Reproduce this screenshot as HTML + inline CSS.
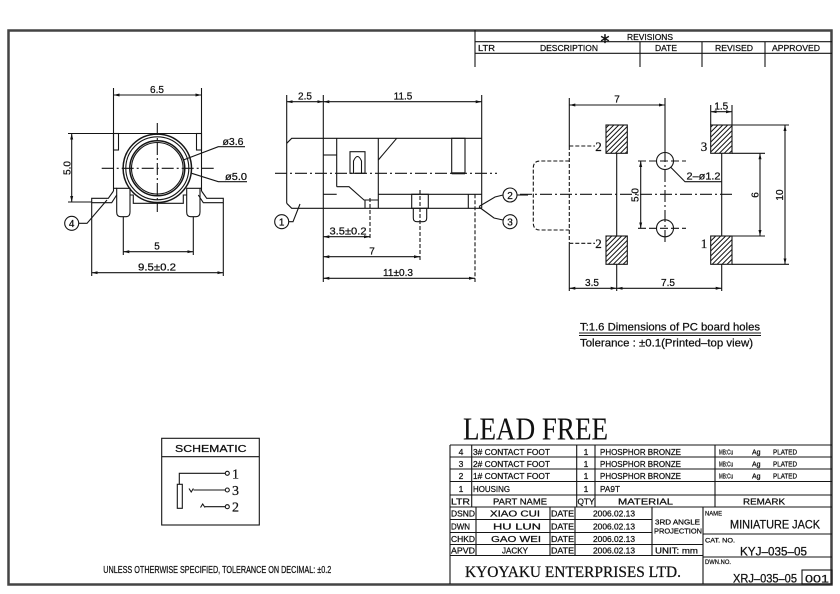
<!DOCTYPE html>
<html><head><meta charset="utf-8"><style>
html,body{margin:0;padding:0;background:#fff;}
svg{display:block;}
text{font-family:"Liberation Sans",sans-serif;fill:#111;stroke:#111;stroke-width:0.25;}
.s{font-family:"Liberation Serif",serif;}
</style></head><body>
<svg width="840" height="594" viewBox="0 0 840 594" xmlns="http://www.w3.org/2000/svg">
<defs>
<marker id="a" markerUnits="userSpaceOnUse" markerWidth="7" markerHeight="4" refX="6" refY="2" orient="auto-start-reverse"><path d="M0,0.5 L6,2 L0,3.5z" fill="#111"/></marker>
<pattern id="h" width="3.5" height="3.5" patternUnits="userSpaceOnUse" patternTransform="rotate(45)"><line x1="1" y1="0" x2="1" y2="3.5" stroke="#111" stroke-width="1"/></pattern>
</defs>

<!-- FRAME -->
<rect x="8.5" y="30.5" width="823" height="554" fill="none" stroke="#444" stroke-width="2.5"/>

<g fill="none" stroke="#151515" stroke-width="1.1">

<!-- REVISIONS BLOCK -->
<line x1="475" y1="30" x2="475" y2="67"/>
<line x1="475" y1="41.7" x2="832" y2="41.7"/>
<line x1="475" y1="53.3" x2="832" y2="53.3"/>
<line x1="640" y1="41.7" x2="640" y2="67"/>
<line x1="702" y1="41.7" x2="702" y2="67"/>
<line x1="765" y1="41.7" x2="765" y2="67"/>

<!-- ============ LEFT VIEW ============ -->
<line x1="113.5" y1="88" x2="113.5" y2="191"/>
<line x1="201.5" y1="88" x2="201.5" y2="191"/>
<line x1="113.5" y1="95" x2="201.5" y2="95" marker-start="url(#a)" marker-end="url(#a)"/>
<line x1="68" y1="133.5" x2="201.5" y2="133.5"/>
<rect x="113.5" y="133.5" width="5" height="16.5"/>
<rect x="196.5" y="133.5" width="5" height="16.5"/>
<line x1="71.7" y1="133.5" x2="71.7" y2="202" marker-start="url(#a)" marker-end="url(#a)"/>
<line x1="68" y1="202" x2="92" y2="202"/>
<circle cx="157.3" cy="168.3" r="34.2" stroke-width="1.5"/>
<circle cx="157.3" cy="168.3" r="31.5"/>
<circle cx="157.3" cy="168.3" r="27.5" stroke-width="1.5"/>
<circle cx="157.3" cy="168.3" r="25.8"/>
<line x1="101.7" y1="168.3" x2="215" y2="168.3" stroke-dasharray="12 3 2 3"/>
<line x1="157.3" y1="123" x2="157.3" y2="212" stroke-dasharray="12 3 2 3"/>
<polyline points="113.5,191 108.3,198.3 91.7,198.3 91.7,202.7 111.7,202.7 116.7,195"/>
<polyline points="201.5,191 206.7,198.3 223.3,198.3 223.3,202.7 203.3,202.7 198.3,195"/>
<path d="M116.7,188.3 H130 V212 Q130,216.7 126,216.7 H120.7 Q116.7,216.7 116.7,212 Z"/>
<path d="M186.7,188.3 H200 V212 Q200,216.7 196,216.7 H190.7 Q186.7,216.7 186.7,212 Z"/>
<line x1="113.5" y1="188.3" x2="116.7" y2="188.3"/>
<line x1="200" y1="188.3" x2="201.5" y2="188.3"/>
<polyline points="130,195 133.3,195 133.3,203.3 183.3,203.3 183.3,195 186.7,195"/>
<circle cx="71.7" cy="223.3" r="7"/>
<polyline points="78.7,223.3 87,223.3 107,200"/>
<line x1="123.3" y1="217" x2="123.3" y2="255"/>
<line x1="193.3" y1="217" x2="193.3" y2="255"/>
<line x1="123.3" y1="251.7" x2="193.3" y2="251.7" marker-start="url(#a)" marker-end="url(#a)"/>
<line x1="91.7" y1="203" x2="91.7" y2="276"/>
<line x1="223.3" y1="203" x2="223.3" y2="276"/>
<line x1="91.7" y1="272.7" x2="223.3" y2="272.7" marker-start="url(#a)" marker-end="url(#a)"/>
<polyline points="183.3,160 218.3,146.7 245,146.7"/>
<polyline points="191.7,173.3 218.3,181.7 247,181.7"/>

<!-- ============ MIDDLE VIEW ============ -->
<line x1="286.7" y1="95" x2="286.7" y2="203.3"/>
<line x1="323.3" y1="95" x2="323.3" y2="282"/>
<line x1="481.7" y1="95" x2="481.7" y2="208.3"/>
<line x1="286.7" y1="101.7" x2="323.3" y2="101.7" marker-start="url(#a)" marker-end="url(#a)"/>
<line x1="323.3" y1="101.7" x2="481.7" y2="101.7" marker-start="url(#a)" marker-end="url(#a)"/>
<polyline points="481.7,138.3 291.7,138.3 286.7,143.3"/>
<polyline points="286.7,203.3 291.7,208.3 481.7,208.3"/>
<line x1="336.7" y1="138.3" x2="336.7" y2="186.7"/>
<line x1="323.3" y1="155" x2="336.7" y2="155"/>
<line x1="323.3" y1="194.3" x2="336.7" y2="194.3"/>
<polyline points="336.7,186.7 349,186.7 364,200 378.3,200"/>
<line x1="365" y1="200" x2="365" y2="208.3"/>
<line x1="378.3" y1="138.3" x2="378.3" y2="208.3"/>
<line x1="378.3" y1="160" x2="396.7" y2="138.3"/>
<rect x="350" y="151.7" width="15" height="21.6"/>
<path d="M353.5,173.3 V161 Q357.5,152 361.5,161 V173.3"/>
<rect x="451.7" y="138.3" width="13.3" height="35"/>
<line x1="451.7" y1="173.3" x2="465" y2="173.3" stroke-width="2"/>
<line x1="378.3" y1="194.3" x2="481.7" y2="194.3"/>
<rect x="411.7" y="194.3" width="16.6" height="14"/>
<path d="M413.3,208.3 V218 Q413.3,221.7 417,221.7 H423 Q426.7,221.7 426.7,218 V208.3"/>
<line x1="468.3" y1="194.3" x2="468.3" y2="208.3"/>
<line x1="420" y1="190" x2="420" y2="260" stroke-dasharray="4 2"/>
<line x1="370" y1="198" x2="370" y2="240" stroke-dasharray="4 2"/>
<line x1="475" y1="194.3" x2="475" y2="282" stroke-dasharray="4 2"/>
<line x1="275" y1="173.3" x2="497" y2="173.3" stroke-dasharray="12 3 2 3"/>
<circle cx="281.7" cy="221.7" r="7"/>
<polyline points="288.7,221.7 293,221.7 300,204"/>
<circle cx="510" cy="195" r="7"/>
<polyline points="503,195 495,197 479,206.5"/>
<line x1="517" y1="195" x2="528" y2="195"/>
<circle cx="510" cy="221.7" r="7"/>
<polyline points="503,220 494,218 479,207"/>
<line x1="323.3" y1="236.7" x2="370" y2="236.7" marker-start="url(#a)" marker-end="url(#a)"/>
<line x1="323.3" y1="256.7" x2="420" y2="256.7" marker-start="url(#a)" marker-end="url(#a)"/>
<line x1="323.3" y1="278.3" x2="475" y2="278.3" marker-start="url(#a)" marker-end="url(#a)"/>

<!-- ============ RIGHT VIEW ============ -->
<line x1="569.3" y1="98" x2="569.3" y2="146"/>
<line x1="569.3" y1="146" x2="569.3" y2="243.3" stroke-dasharray="4 2"/>
<line x1="569.3" y1="243.3" x2="569.3" y2="291"/>
<line x1="665" y1="98" x2="665" y2="150"/>
<line x1="665" y1="150" x2="665" y2="243" stroke-dasharray="12 3 2 3"/>
<line x1="569.3" y1="105" x2="665" y2="105" marker-start="url(#a)" marker-end="url(#a)"/>
<rect x="606" y="125" width="21.3" height="28.3" fill="url(#h)"/>
<rect x="606" y="236" width="21.3" height="28.3" fill="url(#h)"/>
<rect x="710.7" y="125" width="21.3" height="28.3" fill="url(#h)"/>
<rect x="710.7" y="236" width="21.3" height="28.3" fill="url(#h)"/>
<line x1="616.7" y1="153.3" x2="616.7" y2="236"/>
<line x1="616.7" y1="264.3" x2="616.7" y2="291"/>
<line x1="721.7" y1="153.3" x2="721.7" y2="236"/>
<line x1="721.7" y1="264.3" x2="721.7" y2="291"/>
<line x1="569.3" y1="146" x2="595" y2="146" stroke-dasharray="4 2"/>
<line x1="569.3" y1="243.3" x2="595" y2="243.3" stroke-dasharray="4 2"/>
<path d="M569.3,161 H540 Q533.3,161 533.3,168 V223 Q533.3,230 540,230 H569.3" stroke-dasharray="4 2"/>
<circle cx="665" cy="161" r="8.5"/>
<circle cx="665" cy="228.3" r="8.5"/>
<line x1="638" y1="161" x2="686" y2="161" stroke-dasharray="8 3"/>
<line x1="638" y1="228.3" x2="686" y2="228.3" stroke-dasharray="8 3"/>
<line x1="640.7" y1="161" x2="640.7" y2="228.3" marker-start="url(#a)" marker-end="url(#a)"/>
<polyline points="670.5,167 685,181.7 721.7,181.7"/>
<line x1="520" y1="194.3" x2="734" y2="194.3" stroke-dasharray="12 3 2 3"/>
<line x1="710.7" y1="105" x2="710.7" y2="125"/>
<line x1="732" y1="105" x2="732" y2="125"/>
<line x1="710.7" y1="111.7" x2="732" y2="111.7" marker-start="url(#a)" marker-end="url(#a)"/>
<line x1="732" y1="153.3" x2="765" y2="153.3"/>
<line x1="732" y1="236" x2="765" y2="236"/>
<line x1="760" y1="153.3" x2="760" y2="236" marker-start="url(#a)" marker-end="url(#a)"/>
<line x1="732" y1="125" x2="789" y2="125"/>
<line x1="732" y1="264.3" x2="789" y2="264.3"/>
<line x1="785" y1="125" x2="785" y2="264.3" marker-start="url(#a)" marker-end="url(#a)"/>
<line x1="569.3" y1="288.3" x2="616.7" y2="288.3" marker-start="url(#a)" marker-end="url(#a)"/>
<line x1="616.7" y1="288.3" x2="721.7" y2="288.3" marker-start="url(#a)" marker-end="url(#a)"/>

<line x1="579" y1="333" x2="761" y2="333"/>
<line x1="579" y1="335.5" x2="761" y2="335.5"/>

<!-- SCHEMATIC -->
<rect x="161.7" y="438.3" width="97.6" height="86.7"/>
<line x1="161.7" y1="456.7" x2="259.3" y2="456.7"/>
<polyline points="179.3,484.3 179.3,473.3 225.3,473.3"/>
<rect x="177.3" y="484.3" width="5" height="24"/>
<circle cx="227.3" cy="473.3" r="2"/>
<polyline points="189,488.5 191.2,492 193.4,488.5"/>
<line x1="193.5" y1="490" x2="225.3" y2="490"/>
<circle cx="227.3" cy="490" r="2"/>
<polyline points="200.5,507.5 202.7,504 205,507.5"/>
<line x1="205" y1="506.7" x2="225.3" y2="506.7"/>
<circle cx="227.3" cy="506.7" r="2"/>

<!-- TITLE BLOCK -->
<line x1="450" y1="445" x2="450" y2="584"/>
<line x1="450" y1="445" x2="832" y2="445"/>
<line x1="450" y1="457" x2="832" y2="457"/>
<line x1="450" y1="469" x2="832" y2="469"/>
<line x1="450" y1="481.5" x2="832" y2="481.5"/>
<line x1="450" y1="495" x2="832" y2="495"/>
<line x1="450" y1="507" x2="832" y2="507"/>
<line x1="450" y1="519.5" x2="652" y2="519.5"/>
<line x1="450" y1="532.5" x2="652" y2="532.5"/>
<line x1="450" y1="544.5" x2="703" y2="544.5"/>
<line x1="450" y1="555.5" x2="703" y2="555.5"/>
<line x1="703" y1="534" x2="832" y2="534"/>
<line x1="703" y1="557" x2="832" y2="557"/>
<line x1="471.7" y1="445" x2="471.7" y2="507"/>
<line x1="576.7" y1="445" x2="576.7" y2="507"/>
<line x1="595" y1="445" x2="595" y2="507"/>
<line x1="715" y1="445" x2="715" y2="507"/>
<line x1="476" y1="507" x2="476" y2="555.5"/>
<line x1="550" y1="507" x2="550" y2="555.5"/>
<line x1="575" y1="507" x2="575" y2="555.5"/>
<line x1="652" y1="507" x2="652" y2="555.5"/>
<line x1="703" y1="507" x2="703" y2="584"/>
<rect x="802" y="570" width="30" height="14"/>
</g>

<!-- ===== TEXT ===== -->
<g font-size="8.5">
<text x="605" y="43" font-family="DejaVu Sans" font-size="14" text-anchor="middle">∗</text>
<text x="627" y="39.8" textLength="46" lengthAdjust="spacingAndGlyphs">REVISIONS</text>
<text x="478" y="51" textLength="17" lengthAdjust="spacingAndGlyphs">LTR</text>
<text x="540" y="51" textLength="58" lengthAdjust="spacingAndGlyphs">DESCRIPTION</text>
<text x="655" y="51" textLength="22" lengthAdjust="spacingAndGlyphs">DATE</text>
<text x="715" y="51" textLength="38" lengthAdjust="spacingAndGlyphs">REVISED</text>
<text x="772" y="51" textLength="48" lengthAdjust="spacingAndGlyphs">APPROVED</text>
</g>

<g font-size="10" text-anchor="middle">
<text x="157" y="93">6.5</text>
<text x="157" y="249.5">5</text>
<text x="157" y="270.5" textLength="38" lengthAdjust="spacingAndGlyphs">9.5±0.2</text>
<text transform="translate(70.5,168) rotate(-90)">5.0</text>
<text x="305" y="99.5">2.5</text>
<text x="403" y="99.5">11.5</text>
<text x="348" y="234.5" textLength="37" lengthAdjust="spacingAndGlyphs">3.5±0.2</text>
<text x="372" y="254.5">7</text>
<text x="398" y="276" textLength="30" lengthAdjust="spacingAndGlyphs">11±0.3</text>
<text x="617" y="102.5">7</text>
<text x="721.3" y="109.5">1.5</text>
<text x="592" y="286">3.5</text>
<text x="668" y="286">7.5</text>
<text transform="translate(638.5,195) rotate(-90)">5.0</text>
<text transform="translate(758.5,195) rotate(-90)">6</text>
<text transform="translate(783,195) rotate(-90)">10</text>
<text x="703.5" y="179.5" textLength="34" lengthAdjust="spacingAndGlyphs">2–ø1.2</text>
<text x="233" y="145" textLength="21" lengthAdjust="spacingAndGlyphs">ø3.6</text>
<text x="236" y="180" textLength="22" lengthAdjust="spacingAndGlyphs">ø5.0</text>
<text x="71.7" y="227">4</text>
<text x="281.7" y="225.5">1</text>
<text x="510" y="198.8">2</text>
<text x="510" y="225.5">3</text>
</g>

<g font-size="13" text-anchor="middle">
<text class="s" x="598.5" y="151">2</text>
<text class="s" x="598.5" y="248">2</text>
<text class="s" x="704" y="151">3</text>
<text class="s" x="704" y="248">1</text>
</g>

<text x="580" y="330.5" font-size="11" textLength="180" lengthAdjust="spacingAndGlyphs">T:1.6 Dimensions of PC board holes</text>
<text x="580" y="346.5" font-size="11" textLength="173" lengthAdjust="spacingAndGlyphs">Tolerance : ±0.1(Printed–top view)</text>

<text x="175" y="452" font-size="10" textLength="71.5" lengthAdjust="spacingAndGlyphs">SCHEMATIC</text>
<text class="s" x="232" y="478.3" font-size="14">1</text>
<text class="s" x="232" y="495" font-size="14">3</text>
<text class="s" x="232" y="511.7" font-size="14">2</text>

<text x="103.3" y="573" font-size="10" textLength="228" lengthAdjust="spacingAndGlyphs">UNLESS OTHERWISE SPECIFIED, TOLERANCE ON DECIMAL: ±0.2</text>

<text class="s" x="463" y="439.3" font-size="32" textLength="145" lengthAdjust="spacingAndGlyphs" style="stroke-width:0.1">LEAD FREE</text>

<g font-size="8.5">
<text x="461" y="455" text-anchor="middle">4</text>
<text x="461" y="467" text-anchor="middle">3</text>
<text x="461" y="479" text-anchor="middle">2</text>
<text x="461" y="492" text-anchor="middle">1</text>
<text x="473" y="455" textLength="77" lengthAdjust="spacingAndGlyphs">3# CONTACT FOOT</text>
<text x="473" y="467" textLength="77" lengthAdjust="spacingAndGlyphs">2# CONTACT FOOT</text>
<text x="473" y="479" textLength="77" lengthAdjust="spacingAndGlyphs">1# CONTACT FOOT</text>
<text x="473" y="492" textLength="37" lengthAdjust="spacingAndGlyphs">HOUSING</text>
<text x="586" y="455" text-anchor="middle">1</text>
<text x="586" y="467" text-anchor="middle">1</text>
<text x="586" y="479" text-anchor="middle">1</text>
<text x="586" y="492" text-anchor="middle">1</text>
<text x="600" y="455" textLength="81" lengthAdjust="spacingAndGlyphs">PHOSPHOR BRONZE</text>
<text x="600" y="467" textLength="81" lengthAdjust="spacingAndGlyphs">PHOSPHOR BRONZE</text>
<text x="600" y="479" textLength="81" lengthAdjust="spacingAndGlyphs">PHOSPHOR BRONZE</text>
<text x="600" y="492" textLength="20" lengthAdjust="spacingAndGlyphs">PA9T</text>
<g font-size="7">
<text x="719" y="454.5" textLength="14" lengthAdjust="spacingAndGlyphs">MB:Cu</text>
<text x="752" y="454.5">Ag</text>
<text x="773" y="454.5" textLength="24" lengthAdjust="spacingAndGlyphs">PLATED</text>
<text x="719" y="466.5" textLength="14" lengthAdjust="spacingAndGlyphs">MB:Cu</text>
<text x="752" y="466.5">Ag</text>
<text x="773" y="466.5" textLength="24" lengthAdjust="spacingAndGlyphs">PLATED</text>
<text x="719" y="478.5" textLength="14" lengthAdjust="spacingAndGlyphs">MB:Cu</text>
<text x="752" y="478.5">Ag</text>
<text x="773" y="478.5" textLength="24" lengthAdjust="spacingAndGlyphs">PLATED</text>
</g>
<text x="451" y="504.5" textLength="19" lengthAdjust="spacingAndGlyphs">LTR</text>
<text x="493" y="504.5" textLength="54" lengthAdjust="spacingAndGlyphs">PART NAME</text>
<text x="577.5" y="504.5" textLength="17" lengthAdjust="spacingAndGlyphs">QTY</text>
<text x="618" y="504.5" textLength="55" lengthAdjust="spacingAndGlyphs">MATERIAL</text>
<text x="743" y="504.5" textLength="42" lengthAdjust="spacingAndGlyphs">REMARK</text>

<text x="451" y="516.5" textLength="24" lengthAdjust="spacingAndGlyphs">DSND</text>
<text x="451" y="529.5" textLength="19" lengthAdjust="spacingAndGlyphs">DWN</text>
<text x="451" y="542" textLength="24" lengthAdjust="spacingAndGlyphs">CHKD</text>
<text x="451" y="553.5" textLength="24" lengthAdjust="spacingAndGlyphs">APVD</text>
<text x="490" y="516.5" textLength="50" lengthAdjust="spacingAndGlyphs">XIAO  CUI</text>
<text x="493" y="529.5" textLength="48" lengthAdjust="spacingAndGlyphs">HU  LUN</text>
<text x="491" y="542" textLength="50" lengthAdjust="spacingAndGlyphs">GAO  WEI</text>
<text x="502" y="553.5" textLength="26" lengthAdjust="spacingAndGlyphs">JACKY</text>
<text x="551" y="516.5" textLength="23" lengthAdjust="spacingAndGlyphs">DATE</text>
<text x="551" y="529.5" textLength="23" lengthAdjust="spacingAndGlyphs">DATE</text>
<text x="551" y="542" textLength="23" lengthAdjust="spacingAndGlyphs">DATE</text>
<text x="551" y="553.5" textLength="23" lengthAdjust="spacingAndGlyphs">DATE</text>
<text x="593" y="516.5" textLength="42" lengthAdjust="spacingAndGlyphs">2006.02.13</text>
<text x="593" y="529.5" textLength="42" lengthAdjust="spacingAndGlyphs">2006.02.13</text>
<text x="593" y="542" textLength="42" lengthAdjust="spacingAndGlyphs">2006.02.13</text>
<text x="593" y="553.5" textLength="42" lengthAdjust="spacingAndGlyphs">2006.02.13</text>
<text x="655" y="524.5" font-size="7" textLength="45" lengthAdjust="spacingAndGlyphs">3RD ANGLE</text>
<text x="654" y="533.5" font-size="7" textLength="48" lengthAdjust="spacingAndGlyphs">PROJECTION</text>
<text x="655" y="553.5" textLength="43" lengthAdjust="spacingAndGlyphs">UNIT: mm</text>
<text x="705" y="515.5" font-size="6.5" textLength="17" lengthAdjust="spacingAndGlyphs">NAME</text>
<text x="705" y="542.5" font-size="6.5" textLength="30" lengthAdjust="spacingAndGlyphs">CAT. NO.</text>
<text x="705" y="564" font-size="6.5" textLength="26" lengthAdjust="spacingAndGlyphs">DWN.NO.</text>
</g>
<text x="730" y="528.5" font-size="12" textLength="90" lengthAdjust="spacingAndGlyphs">MINIATURE  JACK</text>
<text x="740" y="555.5" font-size="12" textLength="67" lengthAdjust="spacingAndGlyphs">KYJ–035–05</text>
<text x="733" y="582.5" font-size="12" textLength="64" lengthAdjust="spacingAndGlyphs">XRJ–035–05</text>
<text x="805" y="582.5" font-size="11" textLength="24" lengthAdjust="spacingAndGlyphs">001</text>
<text class="s" x="465" y="577" font-size="15.5" textLength="216" lengthAdjust="spacingAndGlyphs">KYOYAKU  ENTERPRISES  LTD.</text>
</svg>
</body></html>
